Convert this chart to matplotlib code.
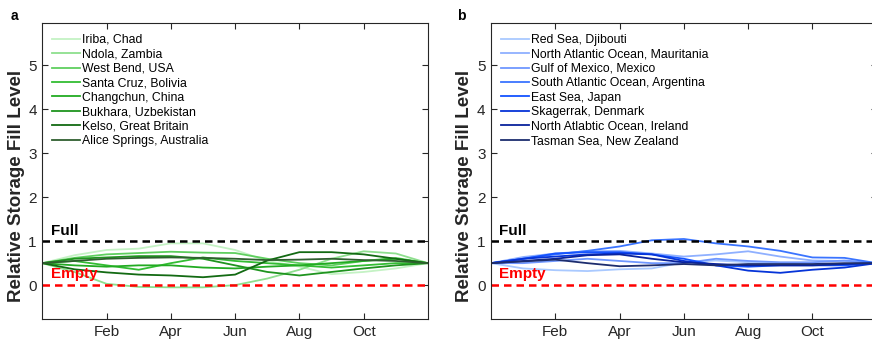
import matplotlib
matplotlib.use("Agg")
import matplotlib.pyplot as plt

plt.rcParams['font.family'] = ['Liberation Sans', 'DejaVu Sans']

# monthly points, start/end of year pinned at half fill
months = list(range(13))
tick_pos = [2, 4, 6, 8, 10]
tick_labels = ['Feb', 'Apr', 'Jun', 'Aug', 'Oct']

land_sites = ['Iriba, Chad', 'Ndola, Zambia', 'West Bend, USA', 'Santa Cruz, Bolivia',
              'Changchun, China', 'Bukhara, Uzbekistan', 'Kelso, Great Britain',
              'Alice Springs, Australia']
land_colors = ['#c4f2c4', '#8edf8e', '#5fcf5f', '#33bd33', '#22ab22', '#1f941f',
               '#136a13', '#2f5f2f']
land_levels = [
    [0.5, 0.68, 0.80, 0.83, 0.95, 0.95, 0.80, 0.55, 0.42, 0.25, 0.30, 0.38, 0.5],
    [0.5, 0.30, 0.03, -0.04, -0.05, -0.05, 0.00, 0.15, 0.35, 0.60, 0.77, 0.72, 0.5],
    [0.5, 0.62, 0.70, 0.73, 0.76, 0.74, 0.73, 0.60, 0.50, 0.45, 0.55, 0.62, 0.5],
    [0.5, 0.55, 0.45, 0.35, 0.50, 0.63, 0.55, 0.50, 0.45, 0.40, 0.45, 0.50, 0.5],
    [0.5, 0.45, 0.42, 0.45, 0.45, 0.40, 0.38, 0.42, 0.45, 0.50, 0.55, 0.60, 0.5],
    [0.5, 0.60, 0.63, 0.66, 0.66, 0.60, 0.45, 0.30, 0.22, 0.30, 0.38, 0.45, 0.5],
    [0.5, 0.36, 0.29, 0.24, 0.22, 0.18, 0.24, 0.56, 0.75, 0.75, 0.70, 0.60, 0.5],
    [0.5, 0.55, 0.60, 0.62, 0.63, 0.62, 0.60, 0.57, 0.58, 0.60, 0.57, 0.55, 0.5],
]

sea_sites = ['Red Sea, Djibouti', 'North Atlantic Ocean, Mauritania', 'Gulf of Mexico, Mexico',
             'South Atlantic Ocean, Argentina', 'East Sea, Japan', 'Skagerrak, Denmark',
             'North Atlabtic Ocean, Ireland', 'Tasman Sea, New Zealand']
sea_colors = ['#a9c9ff', '#8fb0ff', '#6f97ff', '#3a74ff', '#1453ff', '#0634d8',
              '#0a239c', '#1d2d6e']
sea_levels = [
    [0.5, 0.38, 0.34, 0.32, 0.36, 0.38, 0.52, 0.56, 0.52, 0.50, 0.46, 0.48, 0.5],
    [0.5, 0.64, 0.72, 0.77, 0.78, 0.72, 0.65, 0.70, 0.77, 0.65, 0.56, 0.55, 0.5],
    [0.5, 0.50, 0.55, 0.60, 0.55, 0.50, 0.50, 0.60, 0.55, 0.52, 0.52, 0.56, 0.5],
    [0.5, 0.60, 0.70, 0.78, 0.88, 1.02, 1.05, 0.95, 0.88, 0.78, 0.63, 0.62, 0.5],
    [0.5, 0.60, 0.72, 0.75, 0.75, 0.70, 0.60, 0.45, 0.42, 0.45, 0.45, 0.45, 0.5],
    [0.5, 0.60, 0.65, 0.70, 0.72, 0.70, 0.55, 0.45, 0.33, 0.28, 0.35, 0.40, 0.5],
    [0.5, 0.55, 0.60, 0.68, 0.70, 0.60, 0.52, 0.48, 0.45, 0.45, 0.45, 0.48, 0.5],
    [0.5, 0.54, 0.58, 0.50, 0.43, 0.45, 0.48, 0.45, 0.48, 0.48, 0.48, 0.50, 0.5],
]

fig = plt.figure(figsize=(8.72, 3.42), dpi=100)
ax_a = fig.add_axes([0.0485, 0.0673, 0.4423, 0.8663])
ax_b = fig.add_axes([0.5631, 0.0673, 0.4423, 0.8663])

panels = [
    (ax_a, land_sites, land_colors, land_levels, 'a', 14, 17),
    (ax_b, sea_sites, sea_colors, sea_levels, 'b', 461, 464),
]

for ax, sites, colors, levels, tag, tag_x, lab_x in panels:
    for site, col, lev in zip(sites, colors, levels):
        ax.plot(months, lev, color=col, lw=1.3, label=site)

    ax.axhline(1, color='black', lw=1.8, dashes=(3, 2))
    ax.axhline(0, color='red', lw=1.8, dashes=(3, 2))
    ax.text(0.26, 1.13, 'Full', color='black', fontsize=11, fontweight='bold')
    ax.text(0.26, 0.17, 'Empty', color='red', fontsize=11, fontweight='bold')

    ax.set_xlim(0, 12)
    ax.set_ylim(-0.77, 5.97)
    ax.set_xticks(tick_pos)
    ax.set_xticklabels(tick_labels)
    ax.set_yticks(range(6))
    ax.tick_params(direction='in', top=True, right=True, length=4, width=0.8,
                   labelsize=11, colors='#262626', pad=4)
    for sp in ax.spines.values():
        sp.set_color('#262626')
        sp.set_linewidth(0.8)

    ax.legend(loc='upper left', bbox_to_anchor=(0.025, 0.962), frameon=False,
              fontsize=8.8, borderpad=0, borderaxespad=0, handlelength=2.3,
              handletextpad=0.15, labelspacing=0.2)

    fig.text(tag_x / 872, 1 - 16 / 342, tag, fontsize=10, fontweight='bold',
             ha='center', va='center')
    fig.text(lab_x / 872, 1 - 186 / 342, 'Relative Storage Fill Level', rotation=90,
             fontsize=13.5, fontweight='bold', color='#262626', ha='center', va='center')

fig.savefig('out.png', dpi=100)
